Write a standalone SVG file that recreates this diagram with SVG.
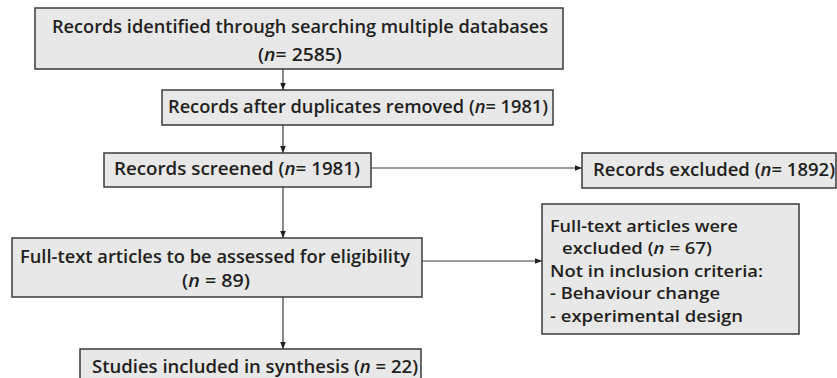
<svg xmlns="http://www.w3.org/2000/svg" width="837" height="378" viewBox="0 0 837 378">
<style>
  .box{fill:#e8e8e8;stroke:#3a3a3a;stroke-width:1.5}
  text{font-family:"Open Sans","Noto Sans","Liberation Sans",sans-serif;font-size:17.5px;font-weight:600;fill:#231f20}
  .s{font-size:17px}
  .i{font-style:italic}
  .c{stroke:#3a3a3a;stroke-width:1.2;fill:none}
</style>
<defs>
  <marker id="ah" viewBox="0 0 10 10" refX="10" refY="5" markerWidth="7" markerHeight="7" markerUnits="userSpaceOnUse" orient="auto">
    <path d="M0,1 L10,5 L0,9 z" fill="#231f20"/>
  </marker>
</defs>
<rect width="837" height="378" fill="#ffffff"/>
<g id="connectors">
  <line class="c" x1="283" y1="69" x2="283" y2="90" marker-end="url(#ah)"/>
  <line class="c" x1="283" y1="125" x2="283" y2="153" marker-end="url(#ah)"/>
  <line class="c" x1="371" y1="168" x2="582" y2="168" marker-end="url(#ah)"/>
  <line class="c" x1="283" y1="187" x2="283" y2="238" marker-end="url(#ah)"/>
  <line class="c" x1="422" y1="261" x2="542" y2="261" marker-end="url(#ah)"/>
  <line class="c" x1="283" y1="297" x2="283" y2="349" marker-end="url(#ah)"/>
</g>
<g id="identified">
  <rect class="box" x="35" y="8" width="528" height="61"/>
  <text x="52" y="33" textLength="496" lengthAdjust="spacingAndGlyphs">Records identified through searching multiple databases</text>
  <text x="258" y="61" textLength="84" lengthAdjust="spacingAndGlyphs">(<tspan class="i">n</tspan>= 2585)</text>
</g>
<g id="duplicates">
  <rect class="box" x="162" y="90" width="391" height="35"/>
  <text x="168" y="113" textLength="380" lengthAdjust="spacingAndGlyphs">Records after duplicates removed (<tspan class="i">n</tspan>= 1981)</text>
</g>
<g id="screened">
  <rect class="box" x="104" y="153" width="267" height="34"/>
  <text x="114" y="175" textLength="246" lengthAdjust="spacingAndGlyphs">Records screened (<tspan class="i">n</tspan>= 1981)</text>
</g>
<g id="excluded">
  <rect class="box" x="582" y="153" width="254" height="35"/>
  <text x="593" y="176" textLength="242" lengthAdjust="spacingAndGlyphs">Records excluded (<tspan class="i">n</tspan>= 1892)</text>
</g>
<g id="fulltext">
  <rect class="box" x="12" y="238" width="410" height="59"/>
  <text x="20" y="263" textLength="390" lengthAdjust="spacingAndGlyphs">Full-text articles to be assessed for eligibility</text>
  <text x="182" y="287" textLength="68" lengthAdjust="spacingAndGlyphs">(<tspan class="i">n</tspan> = 89)</text>
</g>
<g id="ftexcluded">
  <rect class="box" x="542" y="204" width="257" height="130"/>
  <text class="s" x="550" y="232" textLength="188" lengthAdjust="spacingAndGlyphs">Full-text articles were</text>
  <text class="s" x="562" y="254" textLength="150" lengthAdjust="spacingAndGlyphs">excluded (<tspan class="i">n</tspan> = 67)</text>
  <text class="s" x="550" y="277" textLength="213" lengthAdjust="spacingAndGlyphs">Not in inclusion criteria:</text>
  <text class="s" x="550" y="299" textLength="170" lengthAdjust="spacingAndGlyphs">- Behaviour change</text>
  <text class="s" x="550" y="322" textLength="193" lengthAdjust="spacingAndGlyphs">- experimental design</text>
</g>
<g id="included">
  <rect class="box" x="80" y="349" width="341" height="40"/>
  <text x="92" y="373" textLength="326" lengthAdjust="spacingAndGlyphs">Studies included in synthesis (<tspan class="i">n</tspan> = 22)</text>
</g>
</svg>
